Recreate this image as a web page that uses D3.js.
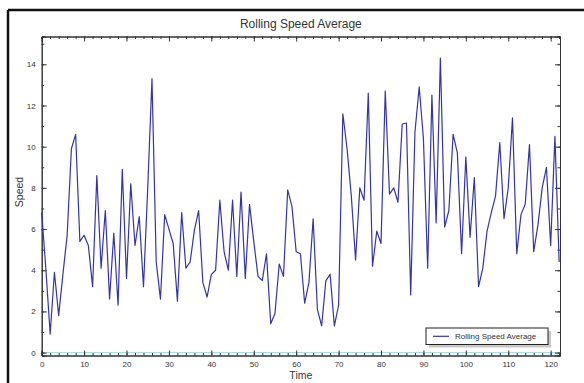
<html>

<head>
  <title>Rolling Speed Average</title>
  <style>
    body { margin: 0; background: #fff; }
    text { font-family: Arial, "Liberation Sans", sans-serif; fill: #333; }
  </style>
</head>

<body>
  <script src="https://d3js.org/d3.v7.min.js"></script>
  <script>
    // series values, one per time step 0..122
    var speed = [
      6.8, 4.0, 0.9, 3.9, 1.8, 3.8, 5.7, 9.9, 10.6, 5.4,
      5.7, 5.2, 3.2, 8.6, 4.1, 6.9, 2.6, 5.8, 2.3, 8.9,
      3.6, 8.2, 5.2, 6.6, 3.2, 8.0, 13.3, 4.4, 2.6, 6.7,
      6.0, 5.3, 2.5, 6.8, 4.1, 4.4, 5.95, 6.9, 3.4, 2.7,
      3.8, 4.0, 7.4, 4.9, 4.0, 7.4, 3.7, 7.8, 3.6, 7.2,
      5.4, 3.7, 3.5, 4.8, 1.4, 1.9, 4.3, 3.7, 7.9, 7.1,
      4.9, 4.8, 2.4, 3.4, 6.5, 2.1, 1.3, 3.5, 3.8, 1.3,
      2.3, 11.6, 9.9, 7.6, 4.5, 8.0, 7.4, 12.6, 4.2, 5.9,
      5.3, 12.7, 7.7, 8.0, 7.3, 11.1, 11.15, 2.8, 10.7, 12.9,
      10.4, 4.1, 12.5, 6.3, 14.3, 6.1, 6.9, 10.6, 9.7, 4.8,
      9.5, 5.6, 8.5, 3.2, 4.1, 5.9, 6.8, 7.6, 10.2, 6.5,
      8.0, 11.4, 4.8, 6.7, 7.2, 10.1, 4.9, 6.2, 8.0, 9.0,
      5.2, 10.5, 4.4
    ];
    var xTicks = [0, 10, 20, 30, 40, 50, 60, 70, 80, 90, 100, 110, 120];
    var yTicks = [0, 2, 4, 6, 8, 10, 12, 14];
    var seriesName = "Rolling Speed Average";

    var data = speed.map(function (v, i) { return { t: i, v: v }; });

    var W = 584, H = 383;
    var margin = { top: 36.5, right: 24, bottom: 27.5, left: 41.7 };
    var width = W - margin.left - margin.right;
    var height = H - margin.top - margin.bottom;

    var root = d3.select("body").append("svg")
      .attr("width", W)
      .attr("height", H);

    // outer frame (top and left edges visible)
    root.append("line")
      .attr("x1", 8).attr("y1", 10).attr("x2", W).attr("y2", 10)
      .attr("stroke", "#111").attr("stroke-width", 2.5);
    root.append("line")
      .attr("x1", 8).attr("y1", 10).attr("x2", 8).attr("y2", H)
      .attr("stroke", "#111").attr("stroke-width", 2.5);

    var svg = root.append("g")
      .attr("transform", "translate(" + margin.left + "," + margin.top + ")");

    var x = d3.scaleLinear().domain([0, 122.2]).range([0, width]);
    var y = d3.scaleLinear().domain([-0.14, 15.35]).range([height, 0]);

    // zero reference line
    svg.append("line")
      .attr("x1", 0).attr("x2", width)
      .attr("y1", y(0)).attr("y2", y(0))
      .attr("stroke", "#a8dce8").attr("stroke-width", 1.2);

    var xMinor = d3.range(0, 123, 2);
    var yMinor = d3.range(0, 16, 1);

    function styleAxis(g) {
      g.select(".domain").attr("stroke", "#333");
      g.selectAll(".tick line").attr("stroke", "#333");
      g.selectAll("text").style("font-size", "8px").attr("fill", "#333");
    }

    // bottom
    svg.append("g").attr("transform", "translate(0," + height + ")")
      .call(d3.axisBottom(x).tickValues(xTicks).tickSize(-5).tickPadding(6).tickFormat(d3.format("d")))
      .call(styleAxis);
    svg.append("g").attr("transform", "translate(0," + height + ")")
      .call(d3.axisBottom(x).tickValues(xMinor).tickSize(-2.5).tickFormat(""))
      .call(styleAxis);
    // top
    svg.append("g")
      .call(d3.axisTop(x).tickValues(xTicks).tickSize(-5).tickFormat(""))
      .call(styleAxis);
    svg.append("g")
      .call(d3.axisTop(x).tickValues(xMinor).tickSize(-2.5).tickFormat(""))
      .call(styleAxis);
    // left
    svg.append("g")
      .call(d3.axisLeft(y).tickValues(yTicks).tickSize(-5).tickPadding(6).tickFormat(d3.format("d")))
      .call(styleAxis);
    svg.append("g")
      .call(d3.axisLeft(y).tickValues(yMinor).tickSize(-2.5).tickFormat(""))
      .call(styleAxis);
    // right
    svg.append("g").attr("transform", "translate(" + width + ",0)")
      .call(d3.axisRight(y).tickValues(yTicks).tickSize(-5).tickFormat(""))
      .call(styleAxis);
    svg.append("g").attr("transform", "translate(" + width + ",0)")
      .call(d3.axisRight(y).tickValues(yMinor).tickSize(-2.5).tickFormat(""))
      .call(styleAxis);

    var line = d3.line()
      .x(function (d) { return x(d.t); })
      .y(function (d) { return y(d.v); });

    svg.append("path")
      .datum(data)
      .attr("fill", "none")
      .attr("stroke", "#3434a8")
      .attr("stroke-width", 1.2)
      .attr("stroke-linejoin", "round")
      .attr("d", line);

    // titles
    root.append("text")
      .attr("x", margin.left + width / 2)
      .attr("y", 28.3)
      .attr("text-anchor", "middle")
      .style("font-size", "12px")
      .text(seriesName);

    root.append("text")
      .attr("x", margin.left + width / 2)
      .attr("y", 378.5)
      .attr("text-anchor", "middle")
      .style("font-size", "10.5px")
      .text("Time");

    root.append("text")
      .attr("transform", "translate(23," + (margin.top + height / 2 - 4) + ") rotate(-90)")
      .attr("text-anchor", "middle")
      .style("font-size", "10.5px")
      .text("Speed");

    // legend
    var lg = root.append("g").attr("transform", "translate(426,328)");
    lg.append("rect")
      .attr("x", 3).attr("y", 3).attr("width", 122).attr("height", 16.5)
      .attr("fill", "#c8c8c8");
    lg.append("rect")
      .attr("x", 0).attr("y", 0).attr("width", 122).attr("height", 16.5)
      .attr("fill", "#fff").attr("stroke", "#222").attr("stroke-width", 1);
    lg.append("line")
      .attr("x1", 7).attr("x2", 23).attr("y1", 8.3).attr("y2", 8.3)
      .attr("stroke", "#3434a8").attr("stroke-width", 1.2);
    lg.append("text")
      .attr("x", 29).attr("y", 11.3)
      .style("font-size", "8px")
      .text(seriesName);
  </script>
</body>

</html>
